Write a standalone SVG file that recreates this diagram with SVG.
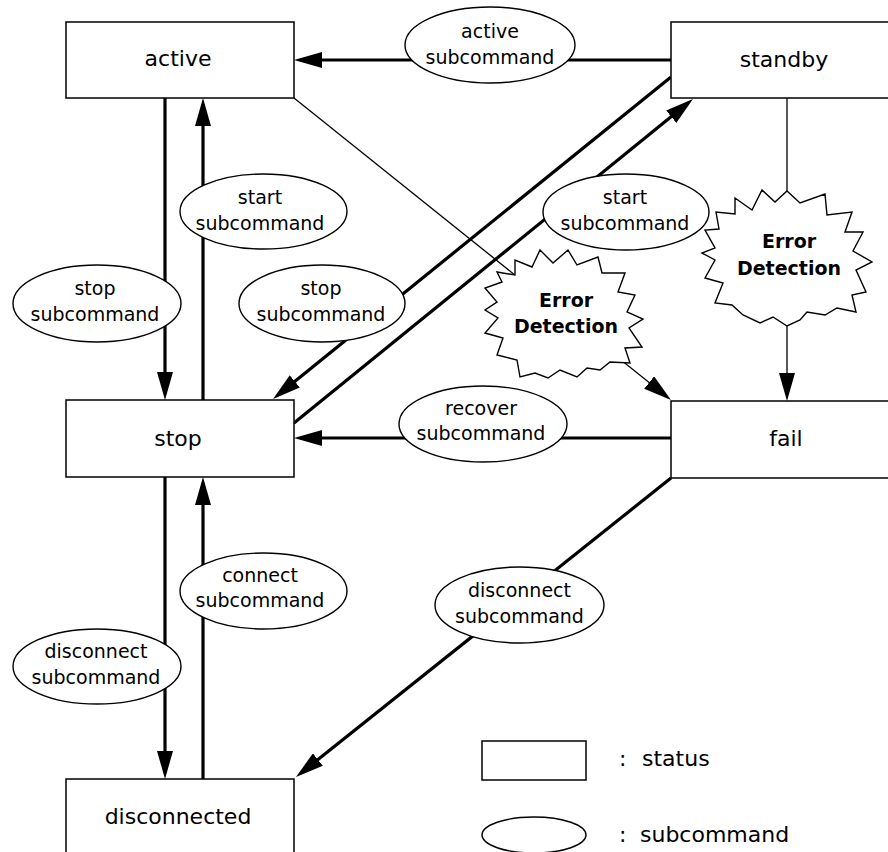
<svg xmlns="http://www.w3.org/2000/svg" width="888" height="852" viewBox="0 0 888 852">
<style>
.box{fill:#fff;stroke:#000;stroke-width:1.5}
.sub{fill:#fff;stroke:#000;stroke-width:1.4}
.burst{fill:#fff;stroke:#000;stroke-width:1.4;stroke-linejoin:miter}
.thick{stroke:#000;stroke-width:3.2;fill:none;marker-end:url(#ah)}
.thin{stroke:#000;stroke-width:1.3;fill:none;marker-end:url(#ah)}
.plain{stroke:#000;stroke-width:1.3;fill:none}
.lbl{font-family:"DejaVu Sans",Verdana,sans-serif;font-size:22px;fill:#000;text-anchor:middle}
.st{font-family:"DejaVu Sans",Verdana,sans-serif;font-size:19px;fill:#000;text-anchor:middle}
.err{font-family:"DejaVu Sans",Verdana,sans-serif;font-size:19px;font-weight:bold;fill:#000;text-anchor:middle}
.leg{font-family:"DejaVu Sans",Verdana,sans-serif;font-size:22px;fill:#000}
</style>
<defs>
<marker id="ah" viewBox="0 0 28 16" refX="22" refY="8" markerWidth="28" markerHeight="16" markerUnits="userSpaceOnUse" orient="auto">
<path d="M0,0 L28,8 L0,16 Z" fill="#000"/>
</marker>
</defs>
<rect width="888" height="852" fill="#fff"/>

<g id="connectors">
<line class="thick" x1="671" y1="60" x2="300" y2="60"/>
<line class="thick" x1="165" y1="98" x2="165" y2="394"/>
<line class="thick" x1="203" y1="400" x2="203" y2="104"/>
<line class="thick" x1="671" y1="77" x2="277.7" y2="395.2"/>
<line class="thick" x1="294" y1="423" x2="688.3" y2="102.8"/>
<line class="thick" x1="671" y1="438" x2="300" y2="438"/>
<line class="thick" x1="203" y1="779" x2="203" y2="483"/>
<line class="thick" x1="165" y1="477" x2="165" y2="773"/>
<line class="thick" x1="671" y1="478" x2="300.7" y2="773.3"/>
<line class="thin" x1="294" y1="98" x2="666.3" y2="396.3"/>
<line class="thin" x1="787" y1="98" x2="787" y2="395"/>
</g>

<g id="burst-left">
<polygon class="burst" points="540,250 553,263 568,250 577,265 598,257 602,273 625,273 618,292 635,295 627,312 643,319 629,328 642,347 625,348 630,363 610,362 600,370 587,368 577,377 560,370 548,378 535,373 520,377 517,360 497,355 503,338 485,333 498,318 485,310 497,302 485,288 502,282 497,272 515,275 515,260 532,267"/>
<text class="err" x="566" y="307">Error</text>
<text class="err" x="566" y="333">Detection</text>
</g>

<g id="burst-right">
<polygon class="burst" points="787,191 800,203 825,194 827,215 852,212 845,232 863,232 853,251 872,262 856,270 866,292 852,295 856,312 837,308 825,315 807,312 800,320 787,326 773,317 760,323 743,315 732,305 715,303 723,283 705,278 715,260 702,253 715,248 705,230 719,229 716,212 735,214 735,198 752,210 762,190 775,202"/>
<text class="err" x="789" y="248">Error</text>
<text class="err" x="789" y="275">Detection</text>
</g>

<g id="sub-active">
<ellipse class="sub" cx="490" cy="45" rx="85" ry="38"/>
<text class="st" x="490" y="38">active</text>
<text class="st" x="490" y="64">subcommand</text>
</g>
<g id="sub-start-left">
<ellipse class="sub" cx="263.5" cy="211.5" rx="83.5" ry="37.5"/>
<text class="st" x="260" y="204">start</text>
<text class="st" x="260" y="230">subcommand</text>
</g>
<g id="sub-stop-left">
<ellipse class="sub" cx="97" cy="303.5" rx="84" ry="38.5"/>
<text class="st" x="95" y="295">stop</text>
<text class="st" x="95" y="321">subcommand</text>
</g>
<g id="sub-stop-mid">
<ellipse class="sub" cx="322" cy="303.5" rx="83" ry="38.5"/>
<text class="st" x="321" y="295">stop</text>
<text class="st" x="321" y="321">subcommand</text>
</g>
<g id="sub-start-right">
<ellipse class="sub" cx="626" cy="212" rx="83" ry="38"/>
<text class="st" x="625" y="204">start</text>
<text class="st" x="625" y="230">subcommand</text>
</g>
<g id="sub-recover">
<ellipse class="sub" cx="483" cy="424" rx="84" ry="38"/>
<text class="st" x="481" y="415">recover</text>
<text class="st" x="481" y="440">subcommand</text>
</g>
<g id="sub-connect">
<ellipse class="sub" cx="263.5" cy="591" rx="83.5" ry="38"/>
<text class="st" x="260" y="582">connect</text>
<text class="st" x="260" y="607">subcommand</text>
</g>
<g id="sub-disconnect-left">
<ellipse class="sub" cx="97" cy="666.5" rx="84" ry="37.5"/>
<text class="st" x="96" y="658">disconnect</text>
<text class="st" x="96" y="684">subcommand</text>
</g>
<g id="sub-disconnect-right">
<ellipse class="sub" cx="519.5" cy="605" rx="84.5" ry="38"/>
<text class="st" x="519.5" y="597">disconnect</text>
<text class="st" x="519.5" y="623">subcommand</text>
</g>

<g id="active">
<rect class="box" x="66" y="22" width="228" height="76"/>
<text class="lbl" x="178" y="66">active</text>
</g>
<g id="standby">
<rect class="box" x="671" y="22" width="240" height="76"/>
<text class="lbl" x="784" y="67">standby</text>
</g>
<g id="stop">
<rect class="box" x="66" y="400" width="228" height="77"/>
<text class="lbl" x="178" y="446">stop</text>
</g>
<g id="fail">
<rect class="box" x="671" y="401" width="240" height="77"/>
<text class="lbl" x="786" y="446">fail</text>
</g>
<g id="disconnected">
<rect class="box" x="66" y="779" width="228" height="100"/>
<text class="lbl" x="178" y="824">disconnected</text>
</g>

<g id="legend-status">
<rect class="box" x="482" y="741" width="104" height="39"/>
<text class="leg" x="619" y="766">:<tspan x="642">status</tspan></text>
</g>
<g id="legend-subcommand">
<ellipse class="sub" cx="534" cy="835" rx="52" ry="18"/>
<text class="leg" x="619" y="842">:<tspan x="640">subcommand</tspan></text>
</g>
</svg>
